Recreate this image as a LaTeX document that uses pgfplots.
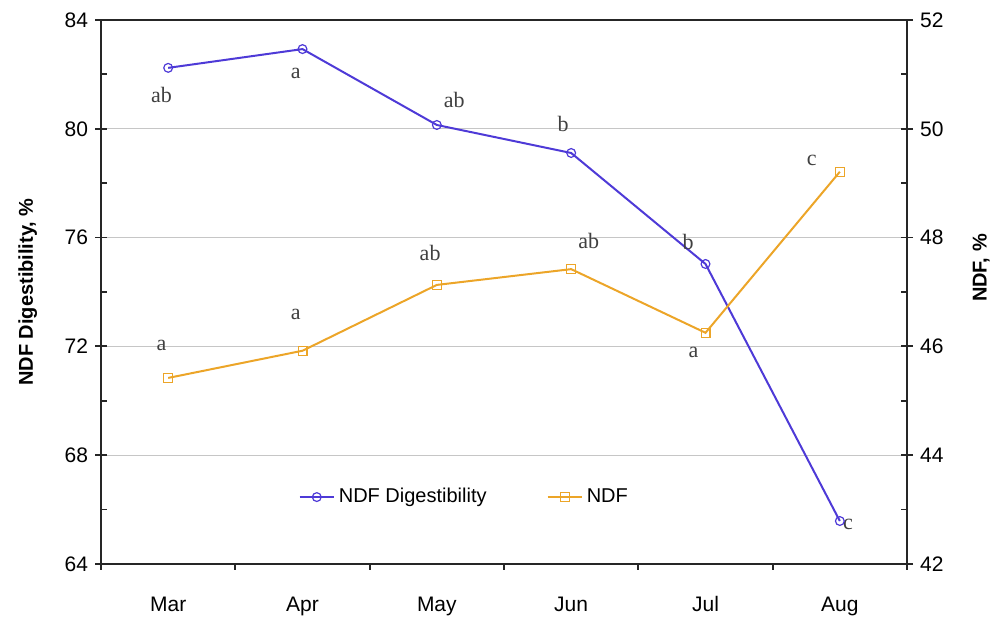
\documentclass[border=0pt]{standalone}
\usepackage{pgfplots}
\pgfplotsset{compat=1.18}
\usepackage{fontspec}
\setmainfont{Liberation Sans}
\newfontfamily\timesfont{Liberation Serif}
\definecolor{ndfblue}{RGB}{78,58,215}
\definecolor{ndforange}{RGB}{236,165,40}
\tikzset{lbl/.style={font=\timesfont\fontsize{11}{12}\selectfont, text=black!75, inner sep=0pt}}

\begin{document}
\begin{tikzpicture}
\pgfplotsset{
  every axis/.append style={
    scale only axis, width=403pt, height=272pt,
    xmin=-0.5, xmax=5.5,
    axis line style={line width=1.2pt, black!85},
    tick style={line width=0.9pt, black!85},
    major tick length=6pt, minor tick length=3pt,
    tick align=center,
    tick label style={font=\fontsize{10.5}{12}\selectfont},
    label style={font=\bfseries\fontsize{10}{12}\selectfont},
    /pgf/number format/assume math mode=true,
  },
}
% left axis: NDF digestibility
\begin{axis}[
  name=ax,
  ymin=64, ymax=84,
  ytick={64,68,...,84},
  minor y tick num=1,
  minor y tick style={xshift=1.5pt},
  ytick pos=left,
  xtick={0,...,5},
  xticklabels={Mar,Apr,May,Jun,Jul,Aug},
  xtick pos=bottom,
  major x tick style={draw=none},
  minor xtick={-0.5,0.5,...,5.5},
  minor x tick style={line width=0.9pt, yshift=-1.5pt},
  xticklabel style={yshift=-9pt, text height=1.6ex, text depth=0.4ex},
  ymajorgrids,
  major grid style={gray!45, line width=0.5pt},
  ylabel={NDF Digestibility, \%},
  ylabel style={at={(axis description cs:-0.091,0.5)}, anchor=center},
]
\addplot[color=ndfblue, line width=1pt, mark=o, mark size=2.2pt,
  mark options={fill=white, line width=0.6pt}]
  coordinates {(0,82.24) (1,82.93) (2,80.14) (3,79.11) (4,75.03) (5,65.58)};
\node[lbl] at (axis cs:-0.05,81.24) {ab};
\node[lbl] at (axis cs:0.95,82.05) {a};
\node[lbl] at (axis cs:2.13,81.06) {ab};
\node[lbl] at (axis cs:2.94,80.18) {b};
\node[lbl] at (axis cs:3.87,75.84) {b};
\node[lbl] at (axis cs:5.06,65.45) {c};
\end{axis}
% right axis: NDF
\begin{axis}[
  at={(ax.south west)}, anchor=south west,
  axis x line=none,
  axis y line*=right,
  ymin=42, ymax=52,
  ytick={42,44,...,52},
  minor y tick num=1,
  minor y tick style={xshift=-1.5pt},
  ylabel={NDF, \%},
  ylabel style={at={(axis description cs:1.092,0.544)}, anchor=center},
  legend style={at={(rel axis cs:0.452,0.123)}, anchor=center, draw=none, fill=none,
    legend columns=2, font=\fontsize{10}{12}\selectfont,
    /tikz/every even column/.append style={column sep=28pt}},
]
\addlegendimage{color=ndfblue, line width=1pt, mark=o, mark size=2.2pt, mark options={fill=white, line width=0.6pt}}
\addlegendentry{NDF Digestibility}
\addplot[color=ndforange, line width=1pt, mark=square, mark size=2.2pt,
  mark options={fill=white, line width=0.6pt}]
  coordinates {(0,45.42) (1,45.92) (2,47.13) (3,47.42) (4,46.25) (5,49.21)};
\addlegendentry{NDF}
\node[lbl] at (axis cs:-0.05,46.01) {a};
\node[lbl] at (axis cs:0.95,46.58) {a};
\node[lbl] at (axis cs:1.95,47.72) {ab};
\node[lbl] at (axis cs:3.13,47.94) {ab};
\node[lbl] at (axis cs:3.91,45.88) {a};
\node[lbl] at (axis cs:4.79,49.41) {c};
\end{axis}
\pgfresetboundingbox
\path (ax.south west) ++(-50.5pt,-26.5pt) rectangle ([shift={(42.5pt,10pt)}]ax.north east);
\end{tikzpicture}
\end{document}
